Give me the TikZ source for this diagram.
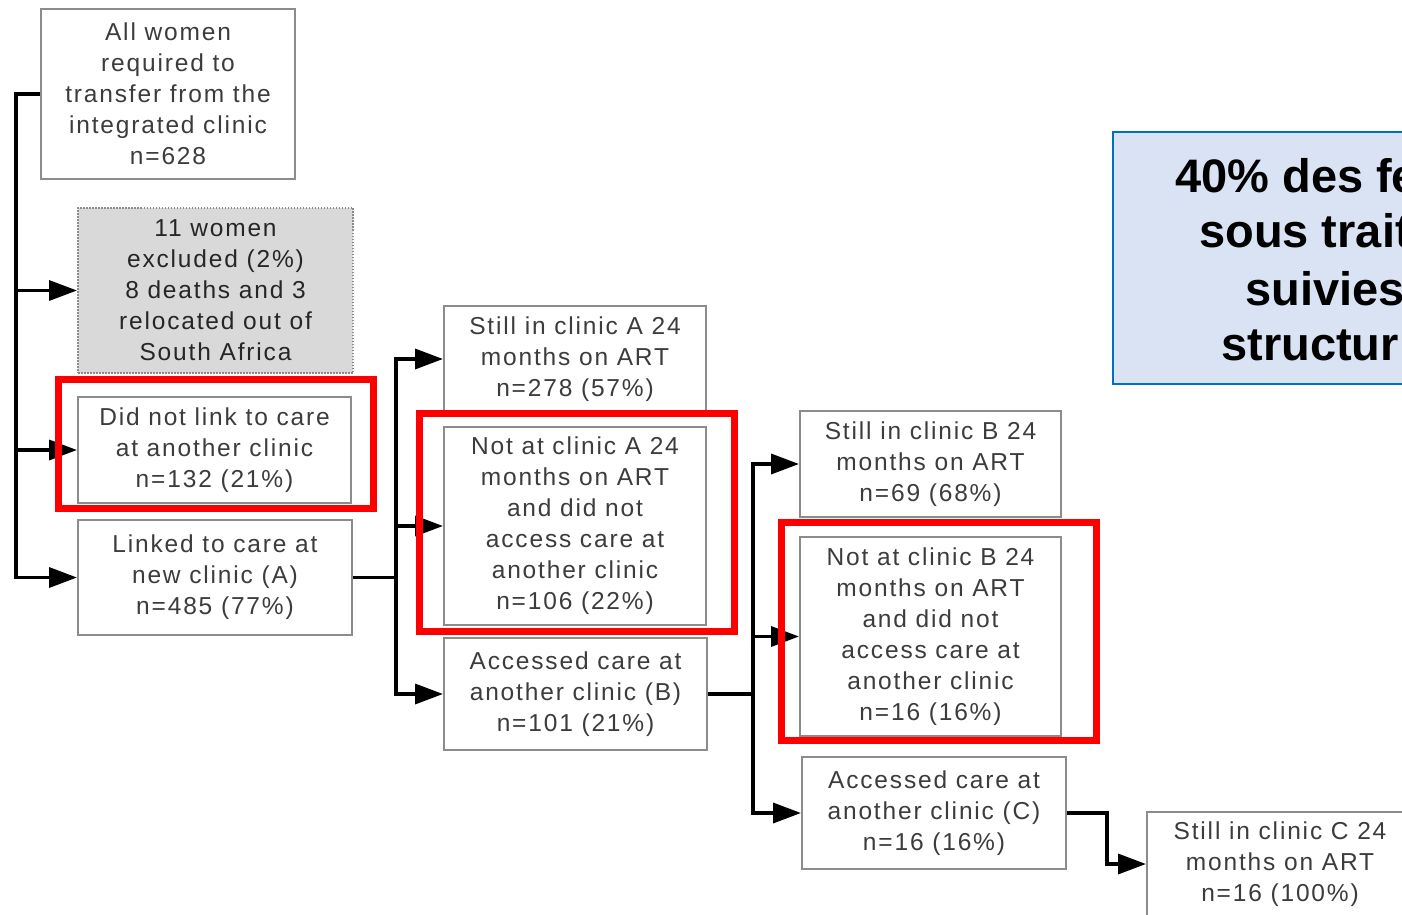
\documentclass[tikz,border=0pt]{standalone}
\usepackage{fontspec}
\setmainfont{Liberation Sans}
\newfontfamily\spacedsans[LetterSpace=7.5]{Liberation Sans}
\usetikzlibrary{arrows.meta}
\definecolor{boxgray}{RGB}{140,140,140}
\definecolor{txtgray}{RGB}{60,60,60}
\definecolor{exfill}{RGB}{217,217,217}
\definecolor{bluefill}{RGB}{218,227,243}
\definecolor{blueline}{RGB}{0,112,192}
\newcommand{\boxfont}{\spacedsans\fontsize{24.5}{31}\selectfont}
\newcommand{\bigboldfont}{\fontsize{47}{57}\selectfont\bfseries}
\begin{document}
\begin{tikzpicture}[x=1pt,y=-1pt,
  box/.style={draw=boxgray,line width=2pt,fill=white,text=txtgray,align=center,inner sep=0pt,font=\boxfont},
  exbox/.style={box,fill=exfill,dash pattern=on 1.5pt off 1.5pt,text=black!85},
  conn/.style={line width=3.5pt,line join=miter,-{Triangle[length=28pt,width=20pt]}},
  redbox/.style={draw=red,line width=7pt},
  bluebox/.style={draw=blueline,fill=bluefill,line width=2.5pt},
  bluetext/.style={anchor=base west,inner sep=0pt,font=\bigboldfont,text=black},
]
\useasboundingbox (0,0) rectangle (1402,915);
\clip (0,0) rectangle (1402,915);

% nodes
\node[box,minimum width=254pt,minimum height=170pt] (b1) at (168,94)
  {All women\\required to\\transfer from the\\integrated clinic\\n=628};
\node[exbox,minimum width=275pt,minimum height=165pt] (b2) at (215.5,290.5)
  {11 women\\excluded (2\%)\\8 deaths and 3\\relocated out of\\South Africa};
\node[box,minimum width=273pt,minimum height=106pt] (b3) at (214.5,450)
  {Did not link to care\\at another clinic\\n=132 (21\%)};
\node[box,minimum width=274pt,minimum height=115pt] (b4) at (215,577.5)
  {Linked to care at\\new clinic (A)\\n=485 (77\%)};
\node[box,minimum width=262pt,minimum height=106pt] (b5) at (575,359)
  {Still in clinic A 24\\months on ART\\n=278 (57\%)};
\node[box,minimum width=262pt,minimum height=198pt] (b6) at (575,526)
  {Not at clinic A 24\\months on ART\\and did not\\access care at\\another clinic\\n=106 (22\%)};
\node[box,minimum width=263pt,minimum height=112pt] (b7) at (575.5,694)
  {Accessed care at\\another clinic (B)\\n=101 (21\%)};
\node[box,minimum width=261pt,minimum height=106pt] (b8) at (930.5,464)
  {Still in clinic B 24\\months on ART\\n=69 (68\%)};
\node[box,minimum width=261pt,minimum height=199pt] (b9) at (930.5,636.5)
  {Not at clinic B 24\\months on ART\\and did not\\access care at\\another clinic\\n=16 (16\%)};
\node[box,minimum width=264pt,minimum height=112pt] (b10) at (934,813)
  {Accessed care at\\another clinic (C)\\n=16 (16\%)};
\node[box,minimum width=266pt,minimum height=104pt] (b11) at (1280,864)
  {Still in clinic C 24\\months on ART\\n=16 (100\%)};

% trunk coordinates
\coordinate (t1) at (16,94);
\coordinate (t2) at (396,577.5);
\coordinate (t3) at (753,694);
\coordinate (t4) at (1107,813);

% connectors
\draw[conn] (b1.west) -- (t1) |- (b4.west);
\draw[conn] (t1) |- (b2.west);
\draw[conn] (t1) |- (b3.west);
\draw[conn] (b4.east) -- (t2) |- (b5.west);
\draw[conn] (t2) |- (b6.west);
\draw[conn] (t2) |- (b7.west);
\draw[conn] (b7.east) -- (t3) |- (b8.west);
\draw[conn] (t3) |- (b9.west);
\draw[conn] (t3) |- (b10.west);
\draw[conn] (b10.east) -- (t4) |- (b11.west);

% red highlight frames
\draw[redbox] (58,379.5) rectangle (373,508);
\draw[redbox] (419,413.5) rectangle (734,631);
\draw[redbox] (781,522.5) rectangle (1096,740);

% blue callout
\draw[bluebox] (1113,132) rectangle (1460,384);
\node[bluetext] (l1) at (1175,192) {40\% des fe};
\node[bluetext] (l2) at (1199,247) {sous trait};
\node[bluetext] (l3) at (1245,305) {suivies};
\node[bluetext] (l4) at (1221,360) {structur};
\end{tikzpicture}
\end{document}
